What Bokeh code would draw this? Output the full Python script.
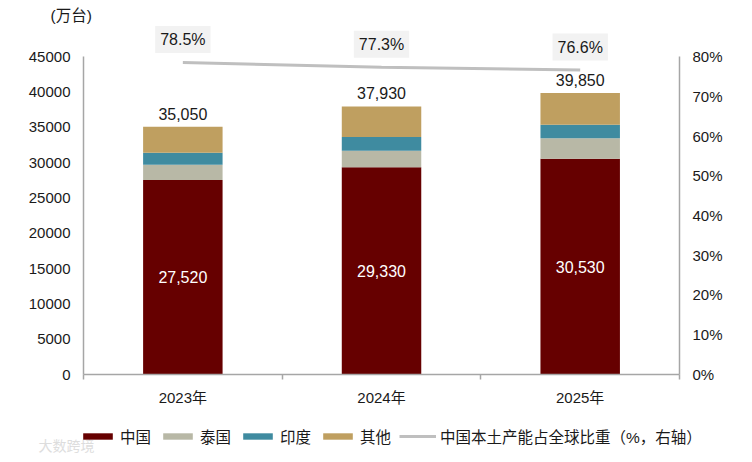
from bokeh.plotting import figure
from bokeh.models import (Range1d, LinearAxis, FixedTicker, PrintfTickFormatter, Legend, LegendItem,
                          ColumnDataSource, Label)
from bokeh.core.properties import value
from bokeh.embed import file_html
from bokeh.resources import INLINE

years = ["2023年", "2024年", "2025年"]
china = [27520, 29330, 30530]
thailand = [2170, 2350, 2890]
india = [1700, 1940, 1940]
others = [3660, 4310, 4490]
totals = [35050, 37930, 39850]
share = [78.5, 77.3, 76.6]
series = ["中国", "泰国", "印度", "其他"]
line_name = "中国本土产能占全球比重（%，右轴）"
colors = ["#660000", "#B8B8A6", "#3F8BA0", "#BF9F60"]
line_color = "#BFBFBF"
axis_color = "#A6A6A6"
text_color = "#1A1A1A"
FONT = "Liberation Sans, Noto Sans CJK SC"

xs = [i + 0.5 for i in range(len(years))]

# The frame fills the canvas; the axes sit at fixed data locations inside it.
p = figure(width=744, height=454, output_backend="svg", toolbar_location=None,
           x_range=Range1d(-0.4178, 3.327), y_range=Range1d(-11322, 52932),
           min_border_left=0, min_border_right=0, min_border_top=0, min_border_bottom=0,
           x_axis_type=None, y_axis_type=None)
p.outline_line_color = None
p.background_fill_color = "white"
p.xgrid.visible = False
p.ygrid.visible = False
p.extra_y_ranges = {"pct": Range1d(-20.13, 94.09)}

src = ColumnDataSource(dict(x=xs, 中国=china, 泰国=thailand, 印度=india, 其他=others, total=totals,
                            china_lbl=[f"{v:,}" for v in china],
                            total_lbl=[f"{v:,}" for v in totals],
                            china_mid=[v / 2 for v in china],
                            share=share, share_lbl=[f"{v}%" for v in share]))

bars = p.vbar_stack(series, x="x", width=0.4, color=colors, line_color=None, source=src)
line = p.line("x", "share", source=src, y_range_name="pct", line_color=line_color, line_width=3)

p.text("x", "china_mid", text="china_lbl", source=src, text_color="white", text_align="center",
       text_baseline="middle", text_font=value(FONT), text_font_size="16px")
p.text("x", "total", text="total_lbl", source=src, text_color=text_color, text_align="center",
       text_baseline="middle", y_offset=-13, text_font=value(FONT), text_font_size="16px")
p.text("x", "share", text="share_lbl", source=src, y_range_name="pct", text_color=text_color,
       text_align="center", text_baseline="middle", y_offset=-23, text_font=value(FONT),
       text_font_size="16px", background_fill_color="#F2F2F2", padding=5)

xax = LinearAxis(ticker=FixedTicker(ticks=xs, minor_ticks=[0, 1, 2, 3]), bounds=(0, 3),
                 fixed_location=0,
                 major_label_overrides={x: y for x, y in zip(xs, years)})
xax.major_tick_line_color = None
xax.minor_tick_line_color = axis_color
xax.minor_tick_line_width = 1.5
xax.minor_tick_out = 5
xax.minor_tick_in = 0
xax.axis_line_color = axis_color
xax.axis_line_width = 1.5
xax.major_label_standoff = 8
xax.major_label_text_font = FONT
xax.major_label_text_font_size = "15px"
xax.major_label_text_color = text_color
p.add_layout(xax, "below")

yl = LinearAxis(ticker=FixedTicker(ticks=list(range(0, 45001, 5000))), bounds=(0, 45000),
                fixed_location=0)
yr = LinearAxis(y_range_name="pct", ticker=FixedTicker(ticks=list(range(0, 81, 10))),
                formatter=PrintfTickFormatter(format="%d%%"), bounds=(0, 80),
                fixed_location=3)
for a, side in ((yl, "left"), (yr, "right")):
    a.major_tick_line_color = None
    a.major_tick_out = 0
    a.major_tick_in = 0
    a.minor_tick_line_color = None
    a.axis_line_color = axis_color
    a.axis_line_width = 1.5
    a.major_label_standoff = 13
    a.major_label_text_font = FONT
    a.major_label_text_font_size = "15px"
    a.major_label_text_color = text_color
    p.add_layout(a, side)

items = [LegendItem(label=value(s), renderers=[r]) for s, r in zip(series, bars)]
items.append(LegendItem(label=value(line_name), renderers=[line]))
legend = Legend(items=items, orientation="horizontal", location=(79, 7),
                glyph_width=37, glyph_height=8, spacing=8, label_standoff=4,
                padding=0, margin=0, border_line_color=None, background_fill_alpha=0,
                label_text_font=FONT, label_text_font_size="15.5px",
                label_text_color=text_color)
p.add_layout(legend, "center")

p.add_layout(Label(x=-0.166, y=50810, text="(万台)", text_baseline="middle",
                   text_font=FONT, text_font_size="15.5px", text_color=text_color))
p.add_layout(Label(x=-0.2265, y=-10050, text="大数跨境", text_baseline="middle",
                   text_font=FONT, text_font_size="14px", text_color="#DDDDDD"))

open("out.html", "w").write(file_html(p, INLINE))
